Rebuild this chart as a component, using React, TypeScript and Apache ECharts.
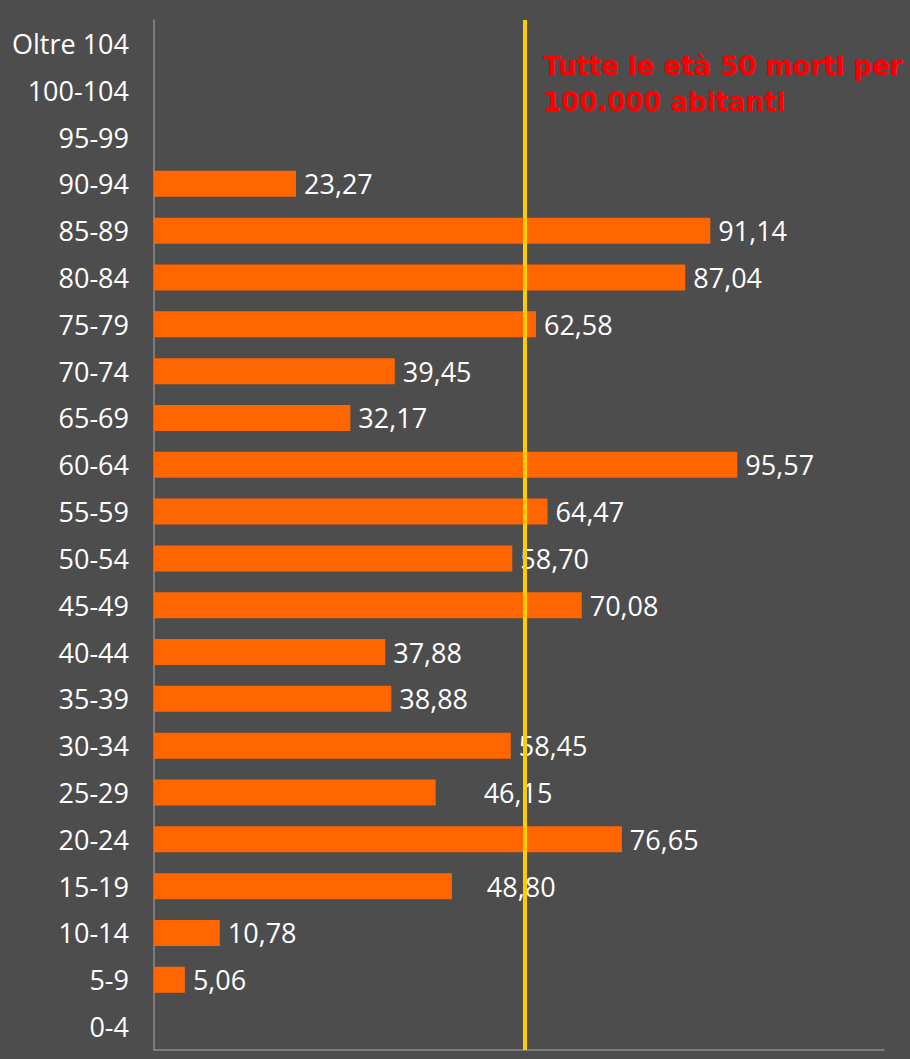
import React, { useEffect, useRef } from "react";
import * as echarts from "echarts";

const categories = [
  "0-4", "5-9", "10-14", "15-19", "20-24", "25-29", "30-34", "35-39", "40-44",
  "45-49", "50-54", "55-59", "60-64", "65-69", "70-74", "75-79", "80-84",
  "85-89", "90-94", "95-99", "100-104", "Oltre 104",
];
const values: (number | null)[] = [
  null, 5.06, 10.78, 48.8, 76.65, 46.15, 58.45, 38.88, 37.88,
  70.08, 58.7, 64.47, 95.57, 32.17, 39.45, 62.58, 87.04,
  91.14, 23.27, null, null, null,
];
// label offsets (pixels) for labels moved in the original
const labelShift: Record<string, number> = { "25-29": 40, "15-19": 27 };
const referenceLine = 60.7;
const annotation = "Tutte le età 50 morti per\n100.000 abitanti";

const fmt = (v: number) => v.toFixed(2).replace(".", ",");

export default function App() {
  const ref = useRef<HTMLDivElement>(null);
  useEffect(() => {
    if (!ref.current) return;
    const chart = echarts.init(ref.current, null, { renderer: "svg" });
    chart.setOption({
      animation: false,
      backgroundColor: "#4d4d4d",
      grid: { left: 154, right: 26, top: 20, bottom: 9, containLabel: false },
      xAxis: {
        type: "value",
        min: 0,
        max: 119.6,
        axisLabel: { show: false },
        splitLine: { show: false },
        axisTick: { show: false },
        axisLine: { show: true, lineStyle: { color: "#8c8c8c", width: 1.5 } },
      },
      yAxis: {
        type: "category",
        data: categories,
        axisTick: { show: false },
        axisLine: { show: true, lineStyle: { color: "#8c8c8c", width: 1.5 } },
        axisLabel: {
          color: "#ffffff",
          fontFamily: "Open Sans",
          fontSize: 27,
          margin: 25,
        },
      },
      series: [
        {
          type: "bar",
          barWidth: 26,
          itemStyle: { color: "#ff6600" },
          data: values.map((v, i) => ({
            value: v,
            label: {
              show: v != null,
              position: "right",
              distance: 8 + (labelShift[categories[i]] || 0),
              color: "#ffffff",
              fontFamily: "Open Sans",
              fontSize: 27,
              formatter: (p: any) => fmt(p.value),
            },
          })),
          markLine: {
            silent: true,
            symbol: "none",
            label: { show: false },
            lineStyle: { color: "#ffcc00", width: 4, type: "solid" },
            data: [{ xAxis: referenceLine }],
          },
          z: 2,
        },
      ],
      graphic: [
        {
          type: "text",
          left: 543,
          top: 48,
          style: {
            text: annotation,
            fill: "#ff0000",
            font: "bold 26px 'DejaVu Sans'",
            lineHeight: 36,
          },
        },
      ],
    });
    return () => chart.dispose();
  }, []);
  return (
    <div
      ref={ref}
      style={{ position: "absolute", left: 0, top: 0, width: 910, height: 1059 }}
    />
  );
}
